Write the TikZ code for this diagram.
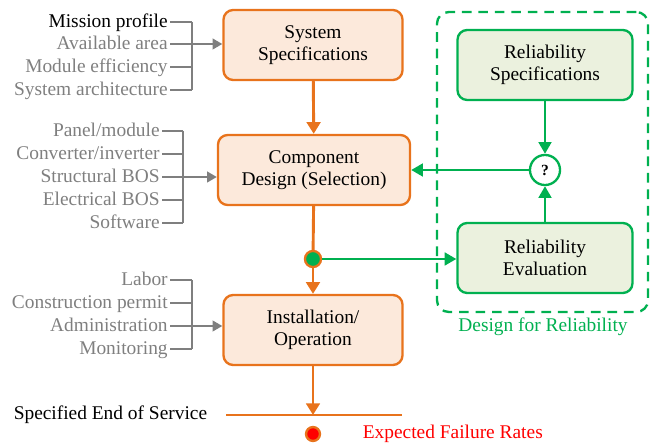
\documentclass[tikz,border=0pt]{standalone}
\usepackage{fontspec}
\setmainfont{Liberation Serif}
\usepackage{xcolor}
\usetikzlibrary{arrows.meta,positioning}
\definecolor{flow-orange}{HTML}{E8731C}
\definecolor{flow-orange-light}{HTML}{FCE9DB}
\definecolor{rel-green}{HTML}{00B050}
\definecolor{rel-green-light}{HTML}{EBF1DE}
\definecolor{input-gray}{HTML}{7F7F7F}
\tikzset{
    design-box/.style = {draw=flow-orange, fill=flow-orange-light, line width=1.2pt, rectangle, rounded corners=5pt, minimum width=92.3pt, minimum height=36.1pt, align=center},
    rel-box/.style = {draw=rel-green, fill=rel-green-light, line width=1.2pt, rectangle, rounded corners=5pt, minimum width=90.2pt, minimum height=36.1pt, align=center},
    input-text/.style = {text=input-gray, anchor=east, inner sep=1pt, text height=1.6ex, text depth=0.4ex},
    input-line/.style = {draw=input-gray, line width=1pt},
    input-arrow/.style = {input-line, -{Triangle[length=5pt,width=5.5pt]}},
    flow-line/.style = {draw=flow-orange, line width=1.5pt},
    flow-arrow/.style = {flow-line, -{Triangle[length=6pt,width=7pt]}},
    rel-line/.style = {draw=rel-green, line width=1.4pt},
    rel-arrow/.style = {rel-line, -{Triangle[length=6pt,width=6.5pt]}},
}

\begin{document}
\begin{tikzpicture}[x=0.5155pt, y=-0.5155pt, every node/.style={font=\fontsize{10}{11.3}\selectfont}]
\useasboundingbox (0,0) rectangle (654,443);

% main flow
\node [design-box] (sys-spec) at (313,45) {System\\Specifications};
\node [design-box, minimum width=99pt] (comp-design) at (314,170) {Component\\Design (Selection)};
\node [design-box] (install) at (313,330) {Installation/\\Operation};
\node [circle, draw=flow-orange, fill=rel-green, line width=1.2pt, minimum size=8.3pt, inner sep=0pt] (split) at (313,259) {};

% design for reliability
\node [draw=rel-green, dash pattern=on 5pt off 3.5pt, line width=1.2pt, rounded corners=6pt, minimum width=108.8pt, minimum height=154.6pt] (dfr-frame) at (542.5,162) {};
\node [text=rel-green] (dfr-label) at (543,327) {Design for Reliability};
\node [rel-box] (rel-spec) at (545,65) {Reliability\\Specifications};
\node [rel-box] (rel-eval) at (545,258) {Reliability\\Evaluation};
\node [circle, draw=rel-green, fill=white, line width=1.2pt, minimum size=15.5pt, inner sep=0pt, font=\fontsize{8}{9}\selectfont\bfseries] (check) at (545,170) {?};

% end of service
\coordinate (end-left) at (226,415);
\coordinate (end-right) at (402,415);
\coordinate (end-mid) at (313,415);
\node [anchor=east] (end-label) at (214,415) {Specified End of Service};
\node [circle, draw=flow-orange, fill=red, line width=1.2pt, minimum size=7.2pt, inner sep=0pt] (failure) at (313,434) {};
\node [text=red, anchor=west] (failure-label) at (356,434) {Expected Failure Rates};

% inputs
\node [input-text, text=black] (mission) at (170,22) {Mission profile};
\node [input-text] (area) at (170,44) {Available area};
\node [input-text] (efficiency) at (170,67) {Module efficiency};
\node [input-text] (architecture) at (170,90) {System architecture};

\node [input-text] (panel) at (162,131) {Panel/module};
\node [input-text] (converter) at (162,154) {Converter/inverter};
\node [input-text] (structural) at (162,177) {Structural BOS};
\node [input-text] (electrical) at (162,200) {Electrical BOS};
\node [input-text] (software) at (162,223) {Software};

\node [input-text] (labor) at (170,280) {Labor};
\node [input-text] (permit) at (170,303) {Construction permit};
\node [input-text] (admin) at (170,326) {Administration};
\node [input-text] (monitoring) at (170,349) {Monitoring};

\coordinate (bracket-a) at (192,0);
\coordinate (bracket-b) at (183,0);
\coordinate (bracket-c) at (192,0);

\foreach \n in {mission, efficiency, architecture}
    \draw [input-line] (\n.east) -- (\n.east -| bracket-a);
\draw [input-line] (mission.east -| bracket-a) -- (architecture.east -| bracket-a);
\draw [input-arrow] (area.east) -- (area.east -| sys-spec.west);

\foreach \n in {panel, converter, electrical, software}
    \draw [input-line] (\n.east) -- (\n.east -| bracket-b);
\draw [input-line] (panel.east -| bracket-b) -- (software.east -| bracket-b);
\draw [input-arrow] (structural.east) -- (structural.east -| comp-design.west);

\foreach \n in {labor, permit, monitoring}
    \draw [input-line] (\n.east) -- (\n.east -| bracket-c);
\draw [input-line] (labor.east -| bracket-c) -- (monitoring.east -| bracket-c);
\draw [input-arrow] (admin.east) -- (admin.east -| install.west);

% connectors
\draw [flow-arrow] (sys-spec) -- (comp-design);
\draw [flow-line] (comp-design) -- (split);
\draw [flow-arrow] (split) -- (install);
\draw [flow-arrow] (install) -- (end-mid);
\draw [flow-line] (end-left) -- (end-right);

\draw [rel-arrow] (rel-spec) -- (check);
\draw [rel-arrow] (rel-eval) -- (check);
\draw [rel-arrow] (check) -- (check -| comp-design.east);
\draw [rel-arrow] (split) -- (split -| rel-eval.west);
\end{tikzpicture}
\end{document}
